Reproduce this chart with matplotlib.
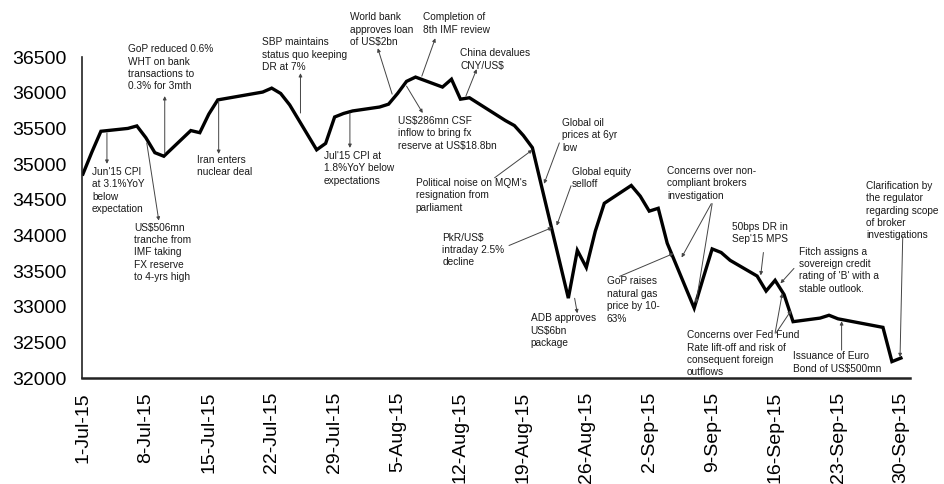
import datetime as dt
import matplotlib
matplotlib.use('Agg')
import matplotlib.pyplot as plt
import matplotlib.dates as mdates

plt.rcParams['font.family'] = ['Liberation Sans', 'DejaVu Sans']

# KSE-100 closing levels, Jul-Sep 2015 (trading days)
dates = ['2015-07-01', '2015-07-02', '2015-07-03', '2015-07-06', '2015-07-07',
         '2015-07-08', '2015-07-09', '2015-07-10', '2015-07-13', '2015-07-14',
         '2015-07-15', '2015-07-16', '2015-07-21', '2015-07-22', '2015-07-23',
         '2015-07-24', '2015-07-27', '2015-07-28', '2015-07-29', '2015-07-30',
         '2015-07-31', '2015-08-03', '2015-08-04', '2015-08-05', '2015-08-06',
         '2015-08-07', '2015-08-10', '2015-08-11', '2015-08-12', '2015-08-13',
         '2015-08-17', '2015-08-18', '2015-08-19', '2015-08-20', '2015-08-21',
         '2015-08-24', '2015-08-25', '2015-08-26', '2015-08-27', '2015-08-28',
         '2015-08-31', '2015-09-01', '2015-09-02', '2015-09-03', '2015-09-04',
         '2015-09-07', '2015-09-08', '2015-09-09', '2015-09-10', '2015-09-11',
         '2015-09-14', '2015-09-15', '2015-09-16', '2015-09-17', '2015-09-18',
         '2015-09-21', '2015-09-22', '2015-09-23', '2015-09-28', '2015-09-29',
         '2015-09-30']
kse = [34860, 35170, 35460, 35500, 35535,
       35370, 35160, 35110, 35470, 35440,
       35700, 35900, 36010, 36065, 35990,
       35830, 35200, 35290, 35660, 35710,
       35745, 35800, 35840, 35990, 36160,
       36220, 36080, 36190, 35910, 35930,
       35610, 35540, 35400, 35230, 34700,
       33120, 33790, 33550, 34060, 34450,
       34700, 34550, 34340, 34380, 33890,
       32980, 33400, 33810, 33760, 33650,
       33430, 33220, 33370, 33170, 32790,
       32840, 32880, 32830, 32710, 32230,
       32280]

tick_dates = ['2015-07-01', '2015-07-08', '2015-07-15', '2015-07-22', '2015-07-29',
              '2015-08-05', '2015-08-12', '2015-08-19', '2015-08-26', '2015-09-02',
              '2015-09-09', '2015-09-16', '2015-09-23', '2015-09-30']
y_ticks = [32000, 32500, 33000, 33500, 34000, 34500, 35000, 35500, 36000, 36500]

# event notes: text, text anchor (days from 1-Jul, level), list of arrows (start, head)
events = [
    ("Jun'15 CPI\nat 3.1%YoY\nbelow\nexpectation", (1.0, 34962),
     [((2.67, 35437), (2.67, 35004))]),
    ("US$506mn\ntranche from\nIMF taking\nFX reserve\nto 4-yrs high", (5.67, 34179),
     [((7.1, 35297), (8.44, 34207))]),
    ("GoP reduced 0.6%\nWHT on bank\ntransactions to\n0.3% for 3mth", (5.0, 36680),
     [((9.1, 35143), (9.1, 35953))]),
    ("Iran enters\nnuclear deal", (12.67, 35129),
     [((15.1, 35884), (15.1, 35143))]),
    ("SBP maintains\nstatus quo keeping\nDR at 7%", (19.9, 36778),
     [((24.2, 35716), (24.2, 36275))]),
    ("Jul'15 CPI at\n1.8%YoY below\nexpectations", (26.8, 35185),
     [((29.7, 35716), (29.7, 35227))]),
    ("World bank\napproves loan\nof US$2bn", (29.7, 37127),
     [((34.4, 35981), (32.8, 36624))]),
    ("Completion of\n8th IMF review", (37.8, 37127),
     [((37.7, 36233), (39.2, 36764))]),
    ("US$286mn CSF\ninflow to bring fx\nreserve at US$18.8bn", (35.0, 35674),
     [((36.0, 36093), (37.8, 35716))]),
    ("China devalues\nCNY/US$", (42.0, 36624),
     [((42.6, 35953), (43.8, 36331))]),
    ("Political noise on MQM's\nresignation from\nparliament", (37.0, 34808),
     [((45.8, 34808), (50.0, 35199))]),
    ("Global oil\nprices at 6yr\nlow", (53.3, 35646),
     [((53.0, 35297), (51.3, 34724))]),
    ("Global equity\nselloff", (54.4, 34962),
     [((54.3, 34696), (52.7, 34137))]),
    ("PkR/US$\nintraday 2.5%\ndecline", (40.0, 34040),
     [((47.4, 33858), (52.2, 34110))]),
    ("ADB approves\nUS$6bn\npackage", (49.8, 32908),
     [((54.7, 33118), (55.0, 32908))]),
    ("GoP raises\nnatural gas\nprice by 10-\n63%", (58.3, 33425),
     [((59.7, 33425), (65.7, 33746))]),
    ("Concerns over non-\ncompliant brokers\ninvestigation", (65.0, 34976),
     [((69.9, 34445), (66.6, 33690)), ((70.0, 34445), (68.2, 33048))]),
    ("50bps DR in\nSep'15 MPS", (72.2, 34193),
     [((75.7, 33760), (75.4, 33439))]),
    ("Fitch assigns a\nsovereign credit\nrating of 'B' with a\nstable outlook.", (79.7, 33844),
     [((79.1, 33537), (77.6, 33327))]),
    ("Concerns over Fed Fund\nRate lift-off and risk of\nconsequent foreign\noutflows", (67.2, 32671),
     [((77.0, 32629), (77.8, 33187)), ((77.1, 32629), (78.8, 32950))]),
    ("Issuance of Euro\nBond of US$500mn", (79.0, 32377),
     [((84.4, 32391), (84.4, 32796))]),
    ("Clarification by\nthe regulator\nregarding scope\nof broker\ninvestigations", (87.1, 34766),
     [((91.2, 33984), (90.9, 32293))]),
]

x = [dt.datetime.strptime(d, '%Y-%m-%d') for d in dates]
ticks = [dt.datetime.strptime(d, '%Y-%m-%d') for d in tick_dates]
start = mdates.date2num(ticks[0])

fig = plt.figure(figsize=(9.44, 4.84), dpi=100)
ax = fig.add_axes([0.0869, 0.219, 0.877, 0.663])

ax.plot(x, kse, color='black', linewidth=2.4, solid_joinstyle='miter')

for text, (tx, ty), arrows in events:
    ax.text(start + tx, ty, text, fontsize=7.3, ha='left', va='top',
            color='#1a1a1a', linespacing=1.3, clip_on=False)
    for (x0, y0), (x1, y1) in arrows:
        ax.annotate('', xy=(start + x1, y1), xytext=(start + x0, y0),
                    arrowprops=dict(arrowstyle='-|>', color='#444444', lw=0.7,
                                    mutation_scale=5, shrinkA=0, shrinkB=0),
                    annotation_clip=False)

ax.set_ylim(32000, 36500)
ax.set_yticks(y_ticks)
ax.set_xlim(start - 0.1, start + 92)
ax.set_xticks(ticks)
ax.set_xticklabels([f"{d.day}-{d.strftime('%b-%y')}" for d in ticks],
                   rotation=90, ha='center', va='top')

ax.tick_params(axis='both', length=0, labelsize=14, colors='black')
ax.tick_params(axis='x', pad=10)
ax.tick_params(axis='y', pad=11)

for side in ['top', 'right']:
    ax.spines[side].set_visible(False)
ax.spines['left'].set_color('#222222')
ax.spines['left'].set_linewidth(1.2)
ax.spines['bottom'].set_color('#222222')
ax.spines['bottom'].set_linewidth(1.8)

fig.savefig('out.png', dpi=100)
